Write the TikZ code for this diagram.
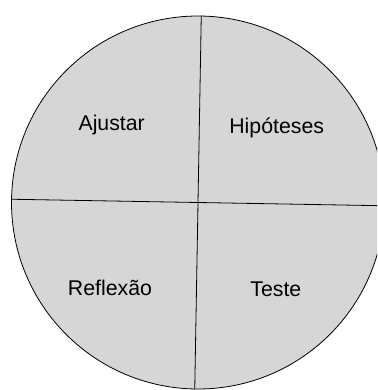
\documentclass[tikz,border=0pt]{standalone}
\usepackage{fontspec}
\setmainfont{Liberation Sans}
\usetikzlibrary{positioning}

\definecolor{discgray}{RGB}{214,214,214}

\begin{document}
\begin{tikzpicture}[
  x=1pt, y=-1pt,
  every node/.style={font=\fontsize{21.3}{25}\selectfont},
  disc/.style={circle, draw, fill=discgray, line width=0.8pt,
    minimum size=373pt, inner sep=0pt},
  split/.style={line width=0.8pt},
  phase/.style={inner sep=0pt},
]
\useasboundingbox (0,0) rectangle (377,390);
\clip (0,0) rectangle (377,390);

\node[disc] (D) at (198,202.5) {};

\draw[split] (D.89.7) -- (D.269.1);
\draw[split] (D.179.5) -- (D.359.2);

\node[phase] (AJ) at (111.7,125) {Ajustar};
\node[phase] (HI) at (276.7,127.5) {Hipóteses};
\node[phase] (RE) at (110,287.5) {Reflexão};
\node[phase] (TE) at (275.8,289) {Teste};

\end{tikzpicture}
\end{document}
